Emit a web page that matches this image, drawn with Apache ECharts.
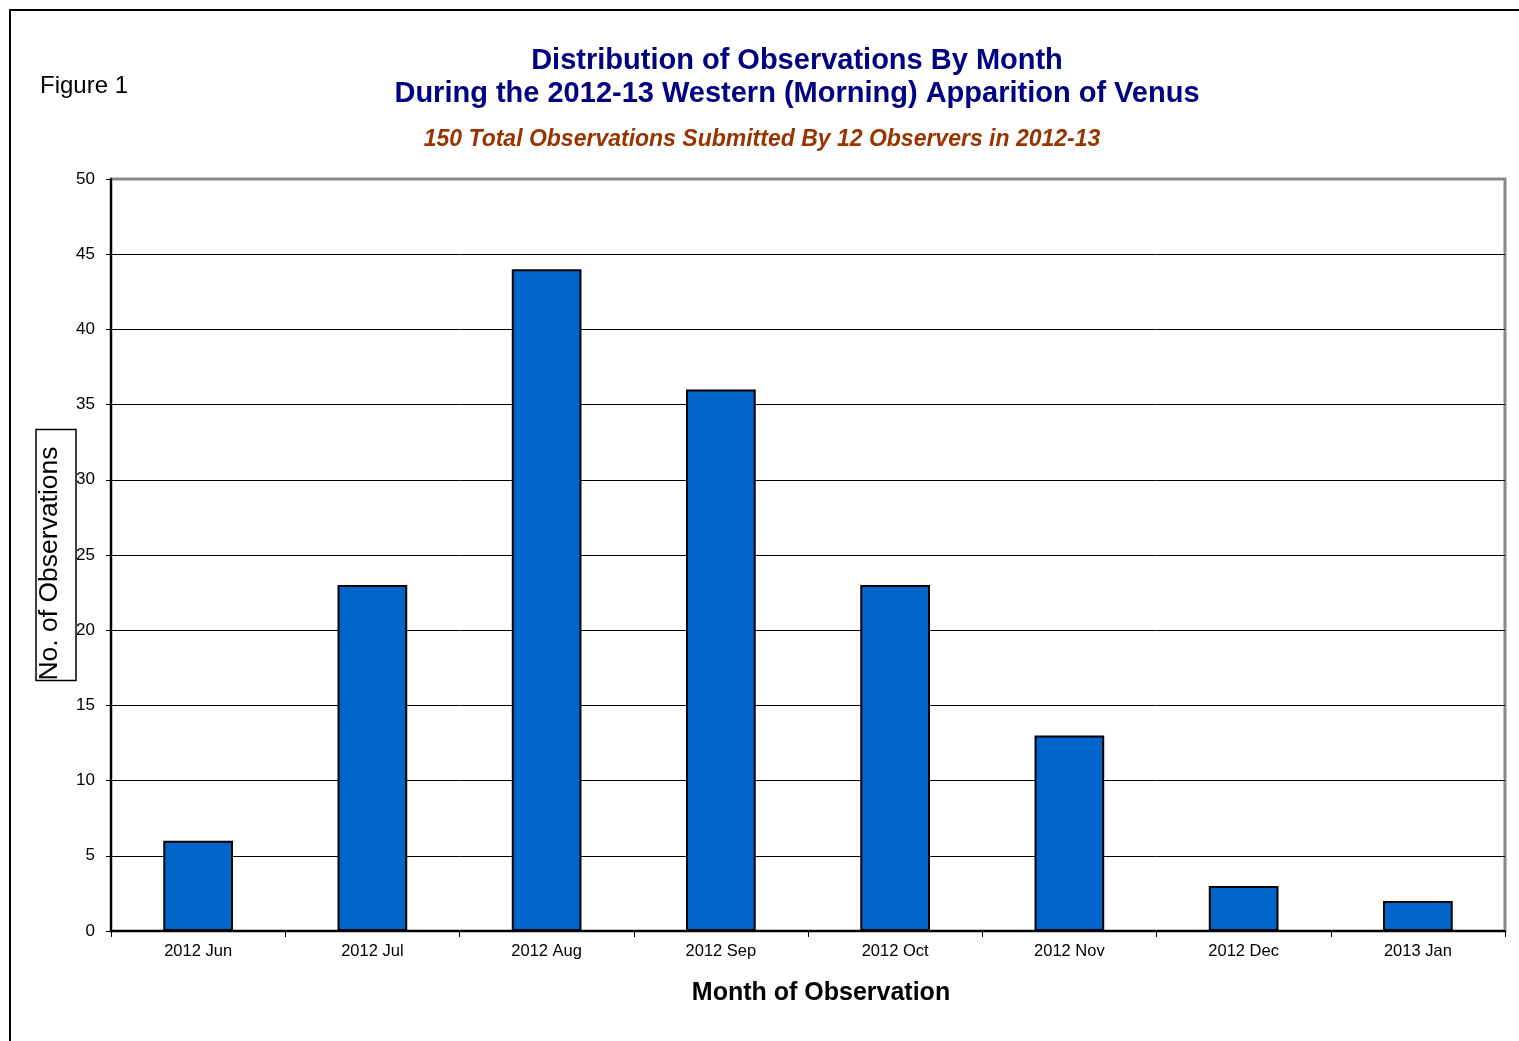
<!DOCTYPE html>
<html>
<head>
<meta charset="utf-8">
<title>Distribution of Observations By Month</title>
<script src="https://cdn.jsdelivr.net/npm/echarts@6/dist/echarts.min.js"></script>
<style>
  html, body { margin: 0; padding: 0; background: #fff; }
  #chart { width: 1519px; height: 1041px; }
</style>
</head>
<body>
<div id="chart"></div>
<script>
// Monthly observation counts, Venus western apparition 2012-13
const months = ['2012 Jun', '2012 Jul', '2012 Aug', '2012 Sep', '2012 Oct', '2012 Nov', '2012 Dec', '2013 Jan'];
const observations = [6, 23, 44, 36, 23, 13, 3, 2];
const yTicks = { min: 0, max: 50, interval: 5 };

const FONT = '"Liberation Sans", Arial, sans-serif';

// split lines: black everywhere except the top one, which the grey frame draws
const splitColors = [];
for (let v = yTicks.min; v <= yTicks.max; v += yTicks.interval) {
  splitColors.push(v === yTicks.max ? 'rgba(0,0,0,0)' : '#000');
}

const chart = echarts.init(document.getElementById('chart'), null, { renderer: 'canvas' });

chart.setOption({
  backgroundColor: '#fff',
  animation: false,
  textStyle: { fontFamily: FONT },
  title: [
    {
      text: 'Distribution of Observations By Month\nDuring the 2012-13 Western (Morning) Apparition of Venus',
      left: 792, top: 39, textAlign: 'center',
      textStyle: { color: '#000080', fontSize: 29, fontWeight: 'bold', lineHeight: 33, fontFamily: FONT }
    },
    {
      text: '150 Total Observations Submitted By 12 Observers in 2012-13',
      left: 757, top: 123, textAlign: 'center',
      textStyle: { color: '#993300', fontSize: 23, fontWeight: 'bold', fontStyle: 'italic', fontFamily: FONT }
    },
    {
      text: 'Figure 1',
      left: 35, top: 69,
      textStyle: { color: '#000', fontSize: 24, fontWeight: 'normal', fontFamily: FONT }
    }
  ],
  grid: {
    left: 111, right: 14, top: 179, bottom: 110,
    show: true, borderColor: '#888', borderWidth: 3, backgroundColor: 'transparent'
  },
  xAxis: {
    type: 'category',
    data: months,
    name: 'Month of Observation',
    nameLocation: 'middle',
    nameGap: 50,
    nameMoveOverlap: false,
    nameTextStyle: { color: '#000', fontSize: 25, fontWeight: 'bold', fontFamily: FONT, padding: [0, 0, 0, 26] },
    axisLine: { lineStyle: { color: '#000', width: 2 } },
    axisTick: { show: true, length: 6, lineStyle: { color: '#000', width: 1 } },
    axisLabel: { color: '#000', fontSize: 16.5, margin: 12, fontFamily: FONT },
    splitLine: { show: false }
  },
  yAxis: {
    type: 'value',
    min: yTicks.min, max: yTicks.max, interval: yTicks.interval,
    name: 'No. of Observations',
    nameLocation: 'middle',
    nameGap: 35,
    nameMoveOverlap: false,
    nameTextStyle: {
      color: '#000', fontSize: 26.5, fontFamily: FONT,
      borderColor: '#000', borderWidth: 1.5,
      padding: [0, 17, 13, 0]
    },
    axisLine: { show: true, lineStyle: { color: '#000', width: 2 } },
    axisTick: { show: true, length: 5, lineStyle: { color: '#000', width: 1 } },
    axisLabel: { color: '#000', fontSize: 17, margin: 16, fontFamily: FONT },
    splitLine: { show: true, lineStyle: { color: splitColors, width: 1 } }
  },
  series: [
    {
      type: 'bar',
      data: observations,
      barWidth: '40%',
      itemStyle: { color: '#0066CC', borderColor: '#000', borderWidth: 2 }
    }
  ],
  graphic: [
    // page frame, top and left edges
    { type: 'line', shape: { x1: 9, y1: 10, x2: 1519, y2: 10 }, style: { stroke: '#000', lineWidth: 2 } },
    { type: 'line', shape: { x1: 10, y1: 10, x2: 10, y2: 1041 }, style: { stroke: '#000', lineWidth: 2 } }
  ]
});
</script>
</body>
</html>
